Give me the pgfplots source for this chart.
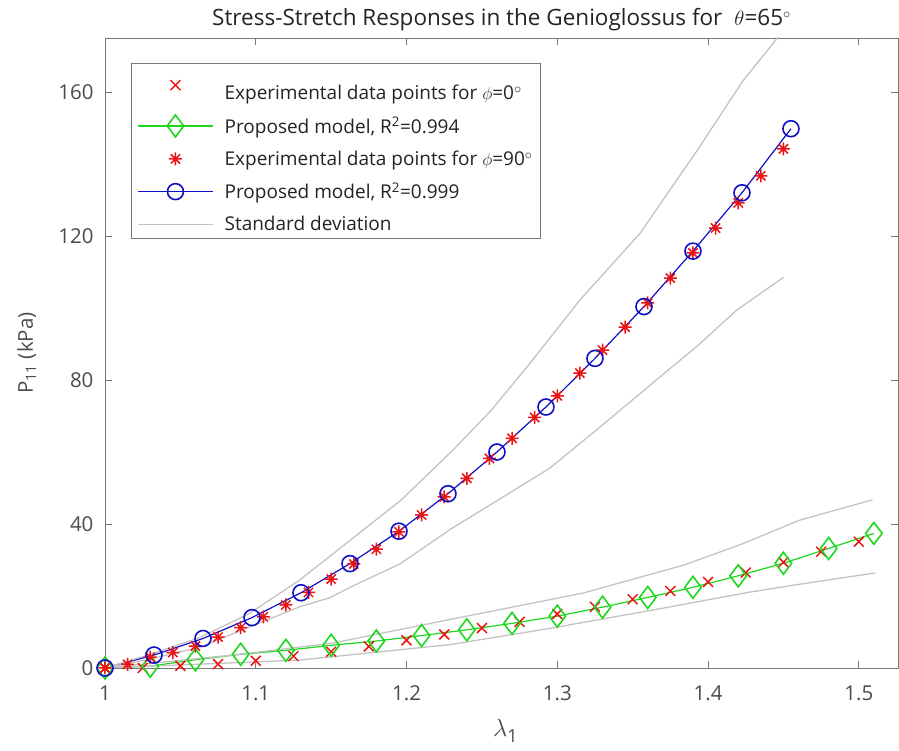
\documentclass[border=0pt]{standalone}
\usepackage{fontspec}
\setmainfont{Open Sans}
\usepackage{pgfplots}
\pgfplotsset{compat=1.18}
\definecolor{axgray}{RGB}{120,120,120}
\definecolor{txtgray}{RGB}{75,75,75}
\definecolor{ttlgray}{RGB}{35,35,35}
\definecolor{sdgray}{RGB}{195,195,195}
\definecolor{mgreen}{RGB}{30,215,30}
\definecolor{mblue}{RGB}{15,15,200}
\definecolor{mred}{RGB}{235,20,20}
\pgfdeclareplotmark{mstar}{%
 \pgfpathmoveto{\pgfqpoint{-\pgfplotmarksize}{0pt}}\pgfpathlineto{\pgfqpoint{\pgfplotmarksize}{0pt}}%
 \pgfpathmoveto{\pgfqpoint{0pt}{-\pgfplotmarksize}}\pgfpathlineto{\pgfqpoint{0pt}{\pgfplotmarksize}}%
 \pgfpathmoveto{\pgfqpoint{-.7071\pgfplotmarksize}{-.7071\pgfplotmarksize}}\pgfpathlineto{\pgfqpoint{.7071\pgfplotmarksize}{.7071\pgfplotmarksize}}%
 \pgfpathmoveto{\pgfqpoint{-.7071\pgfplotmarksize}{.7071\pgfplotmarksize}}\pgfpathlineto{\pgfqpoint{.7071\pgfplotmarksize}{-.7071\pgfplotmarksize}}%
 \pgfusepathqstroke}
\pgfplotsset{
  lineleg/.style={legend image code/.code={\path (0pt,0pt) (84pt,0pt);\draw[##1, line width=1.5pt, mark repeat=2, mark phase=2] plot coordinates {(0pt,0pt) (37.5pt,0pt) (75pt,0pt)};}},
  markleg/.style={legend image code/.code={\path (0pt,0pt) (84pt,0pt);\draw[##1] plot coordinates {(37.5pt,0pt)};}},
}
\begin{document}
\begin{tikzpicture}
\begin{axis}[
  at={(0pt,0pt)}, anchor=south west,
  scale only axis, width=793pt, height=630pt,
  xmin=1, xmax=1.526, ymin=0, ymax=175,
  xtick={1,1.1,1.2,1.3,1.4,1.5},
  xticklabels={1,1.1,1.2,1.3,1.4,1.5},
  ytick={0,40,80,120,160},
  tick align=inside, major tick length=7pt,
  axis line style={axgray, line width=0.8pt},
  tick style={axgray, line width=0.8pt},
  tick label style={font=\fontsize{20.5}{24}\selectfont, text=txtgray},
  /pgf/number format/assume math mode=true,
  xticklabel style={yshift=-14pt},
  yticklabel style={xshift=-8pt},
  title={Stress-Stretch Responses in the Genioglossus for \;$\theta$=65$^{\circ}$},
  title style={at={(axis description cs:0.5,1.0143)}, anchor=base, font=\fontsize{22.5}{26}\selectfont, text=ttlgray, yshift=-3pt},
  xlabel={{\fontsize{26}{30}\selectfont$\lambda$}\raisebox{-6pt}{\fontsize{18}{22}\selectfont 1}},
  xlabel style={at={(axis description cs:0.505,-0.108)}, anchor=base, text=txtgray},
  ylabel={P\textsubscript{11} (kPa)},
  ylabel style={at={(axis description cs:-0.0908,0.5)}, anchor=base, font=\fontsize{20.5}{24}\selectfont, text=txtgray},
  legend style={at={(axis description cs:0.0328,0.960)}, anchor=north west,
    draw=axgray, fill=white, font=\fontsize{19}{22}\selectfont, text=ttlgray,
    inner xsep=6pt, inner ysep=4pt, row sep=12pt},
  legend cell align=left,
]
% phi = 0 experimental
\addplot[only marks, mark=x, mark size=7pt, mred, mark options={line width=1.5pt}, markleg] table {
1.000 0
1.025 0.0
1.050 0.6
1.075 1.1
1.100 2.0
1.125 3.3
1.150 4.5
1.175 6.0
1.200 7.7
1.225 9.3
1.250 11.1
1.275 12.8
1.300 15.0
1.325 17.0
1.350 19.1
1.375 21.4
1.400 23.9
1.425 26.5
1.450 29.4
1.475 32.3
1.500 35.1
};
% phi = 0 model
\addplot[mgreen, line width=1.2pt, mark=diamond, mark size=11pt, mark options={line width=1.6pt, fill=none}, lineleg] table {
1.00 0
1.03 0.5
1.06 2.3
1.09 3.8
1.12 4.9
1.15 6.3
1.18 7.5
1.21 9.0
1.24 10.6
1.27 12.4
1.30 14.4
1.33 16.9
1.36 19.6
1.39 22.4
1.42 25.6
1.45 29.1
1.48 33.2
1.51 37.4
};
% phi = 90 experimental
\addplot[only marks, mark=mstar, mark size=6.5pt, mred, mark options={line width=1.5pt}, markleg] table {
1.000 0
1.015 1.0
1.030 3.0
1.045 4.3
1.060 6.1
1.075 8.6
1.090 11.2
1.105 14.2
1.120 17.5
1.135 21.0
1.150 24.7
1.165 28.9
1.180 33.0
1.195 37.8
1.210 42.5
1.225 47.5
1.240 52.7
1.255 58.2
1.270 63.8
1.285 69.6
1.300 75.6
1.315 81.9
1.330 88.3
1.345 94.7
1.360 101.4
1.375 108.3
1.390 115.3
1.405 122.2
1.420 129.2
1.435 136.7
1.450 144.2
};
% phi = 90 model
\addplot[mblue, line width=1.2pt, mark=o, mark size=8pt, mark options={line width=1.6pt}, lineleg] table {
1.000 0
1.0325 3.6
1.065 8.2
1.0975 14.0
1.130 20.9
1.1625 29.0
1.195 38.0
1.2275 48.4
1.260 60.0
1.2925 72.5
1.325 86.0
1.3575 100.4
1.390 115.8
1.4225 132.0
1.455 149.8
};
% standard deviation curves
\addplot[sdgray, line width=1.3pt, lineleg] table {
1.000 0
1.030 3.8
1.063 8.5
1.096 15.2
1.129 24.4
1.163 35.6
1.196 46.5
1.231 60.6
1.256 71.5
1.282 84.7
1.315 102.2
1.355 120.8
1.393 143.9
1.423 163
1.446 175
1.452 179
};
\addplot[sdgray, line width=1.3pt, forget plot] table {
1.000 0
1.030 2.5
1.063 5.8
1.096 11.4
1.129 17
1.149 19.5
1.163 22.5
1.196 29
1.229 38.5
1.264 47.5
1.295 55.5
1.3285 67
1.368 80.8
1.393 89.5
1.419 99.4
1.450 108.5
};
\addplot[sdgray, line width=1.3pt, forget plot] table {
1.000 0
1.085 3.6
1.151 6.9
1.229 13.5
1.317 20.8
1.384 28.6
1.421 34.2
1.461 41.1
1.509 46.7
};
\addplot[sdgray, line width=1.3pt, forget plot] table {
1.000 0
1.129 2.2
1.229 6.5
1.295 11
1.362 16
1.428 21.1
1.472 24
1.511 26.4
};
\legend{\rule{0pt}{30pt}Experimental data points for $\phi$=0$^{\circ}$, {Proposed model, R\textsuperscript{2}=0.994}, Experimental data points for $\phi$=90$^{\circ}$, {Proposed model, R\textsuperscript{2}=0.999}, Standard deviation}
\end{axis}
\pgfresetboundingbox
\path[use as bounding box] (-105pt,-83pt) rectangle (794pt,668pt);
\end{tikzpicture}
\end{document}
